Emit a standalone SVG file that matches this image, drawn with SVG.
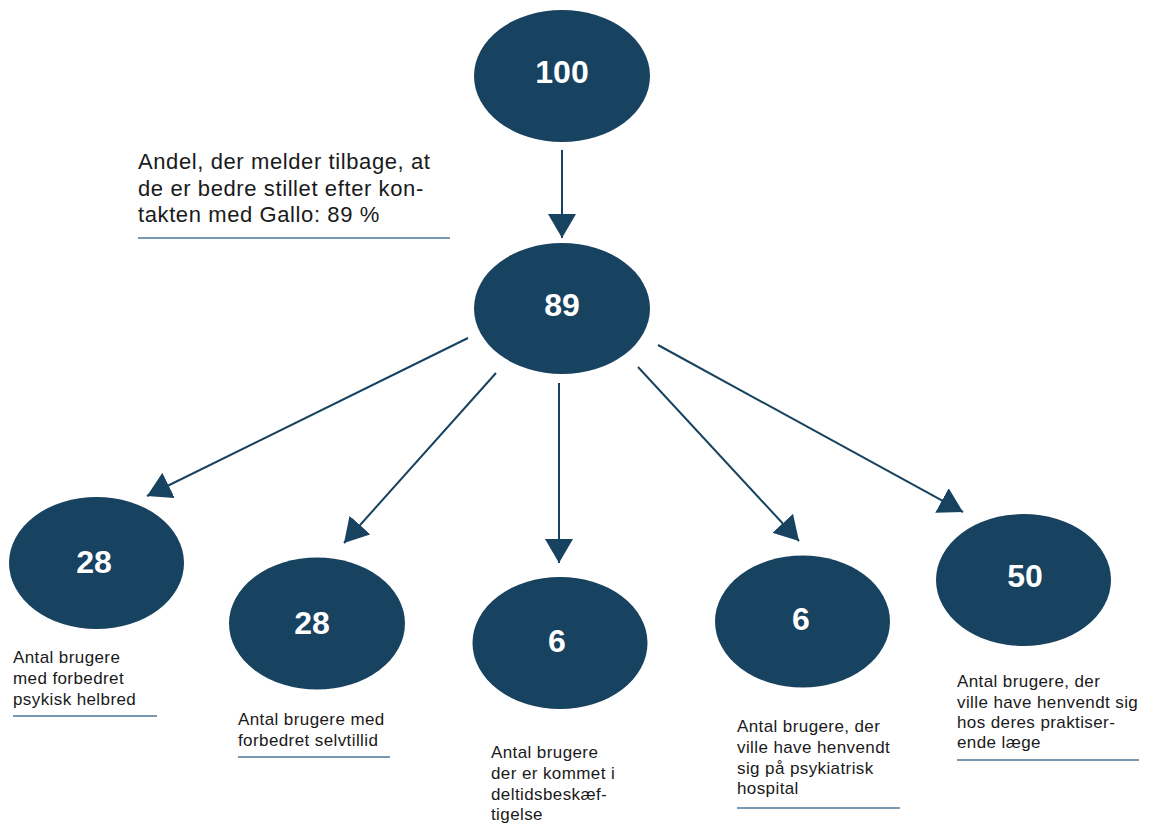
<svg xmlns="http://www.w3.org/2000/svg" width="1150" height="827" viewBox="0 0 1150 827">
<defs>
<marker id="ah" markerUnits="userSpaceOnUse" markerWidth="25" markerHeight="28" refX="24" refY="14" orient="auto" viewBox="0 0 25 28">
<path d="M0,0 L24,14 L0,28 Z" fill="#174260"/>
</marker>
<style>
.node{fill:#174260}
.num{font-family:"Liberation Sans",Arial,sans-serif;font-weight:bold;font-size:32px;fill:#ffffff;text-anchor:middle}
.cap{font-family:"Liberation Sans",Arial,sans-serif;font-size:17px;letter-spacing:0.4px;fill:#1a1a1a}
.big{font-family:"Liberation Sans",Arial,sans-serif;font-size:22px;letter-spacing:0.6px;fill:#1a1a1a}
.rule{stroke:#4d7697;stroke-width:1.6;fill:none}
.conn{stroke:#174260;stroke-width:2;fill:none;marker-end:url(#ah)}
</style>
</defs>
<rect width="1150" height="827" fill="#ffffff"/>
<g id="connectors">
<line class="conn" x1="562" y1="150" x2="562" y2="238"/>
<line class="conn" x1="468" y1="338" x2="147" y2="496"/>
<line class="conn" x1="496" y1="373" x2="344" y2="543"/>
<line class="conn" x1="559" y1="383" x2="559" y2="563"/>
<line class="conn" x1="638" y1="367" x2="799" y2="541"/>
<line class="conn" x1="658" y1="345" x2="963" y2="512"/>
</g>
<g id="node-100">
<ellipse class="node" cx="562" cy="76" rx="88" ry="66"/>
<text class="num" x="562" y="83">100</text>
</g>
<g id="note-top">
<text class="big" x="138" y="169">Andel, der melder tilbage, at</text>
<text class="big" x="138" y="195.5">de er bedre stillet efter kon-</text>
<text class="big" x="138" y="222">takten med Gallo: 89 %</text>
<line class="rule" x1="138" y1="238" x2="450" y2="238"/>
</g>
<g id="node-89">
<ellipse class="node" cx="562" cy="308.5" rx="88" ry="65.5"/>
<text class="num" x="562" y="316">89</text>
</g>
<g id="node-28a">
<ellipse class="node" cx="96.5" cy="563" rx="87.5" ry="66"/>
<text class="num" x="94" y="573">28</text>
<text class="cap" x="13" y="663">Antal brugere</text>
<text class="cap" x="13" y="684">med forbedret</text>
<text class="cap" x="13" y="705">psykisk helbred</text>
<line class="rule" x1="13" y1="716" x2="157" y2="716"/>
</g>
<g id="node-28b">
<ellipse class="node" cx="317" cy="623.5" rx="88" ry="66"/>
<text class="num" x="312" y="634">28</text>
<text class="cap" x="238" y="725">Antal brugere med</text>
<text class="cap" x="238" y="746">forbedret selvtillid</text>
<line class="rule" x1="238" y1="757" x2="390" y2="757"/>
</g>
<g id="node-6a">
<ellipse class="node" cx="560" cy="643" rx="87.5" ry="66"/>
<text class="num" x="557" y="652">6</text>
<text class="cap" x="491" y="758">Antal brugere</text>
<text class="cap" x="491" y="779">der er kommet i</text>
<text class="cap" x="491" y="800">deltidsbeskæf-</text>
<text class="cap" x="491" y="820">tigelse</text>
</g>
<g id="node-6b">
<ellipse class="node" cx="802.5" cy="621.5" rx="87.5" ry="66"/>
<text class="num" x="801" y="630">6</text>
<text class="cap" x="737" y="732">Antal brugere, der</text>
<text class="cap" x="737" y="753">ville have henvendt</text>
<text class="cap" x="737" y="774">sig på psykiatrisk</text>
<text class="cap" x="737" y="794">hospital</text>
<line class="rule" x1="737" y1="808" x2="900" y2="808"/>
</g>
<g id="node-50">
<ellipse class="node" cx="1023.5" cy="580" rx="87.5" ry="66"/>
<text class="num" x="1025" y="587">50</text>
<text class="cap" x="957" y="687">Antal brugere, der</text>
<text class="cap" x="957" y="708">ville have henvendt sig</text>
<text class="cap" x="957" y="728">hos deres praktiser-</text>
<text class="cap" x="957" y="748">ende læge</text>
<line class="rule" x1="957" y1="760" x2="1139" y2="760"/>
</g>
</svg>
